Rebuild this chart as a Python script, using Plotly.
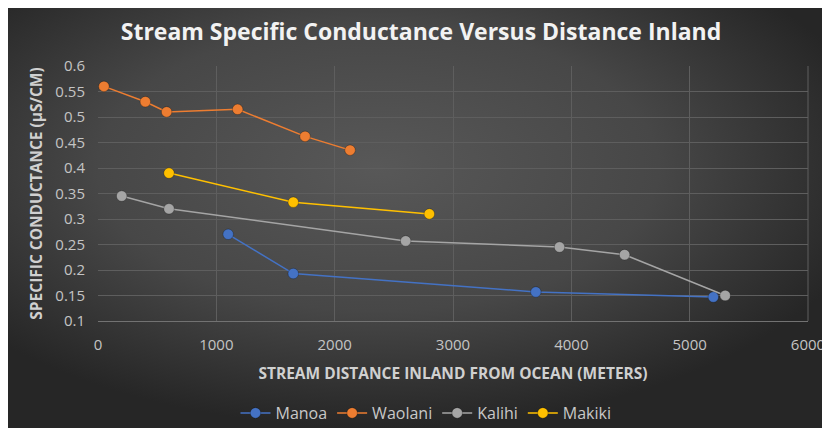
import base64
import plotly.graph_objects as go

# ---- data ----
manoa_x = [1100, 1650, 3700, 5200]
manoa_y = [0.27, 0.193, 0.157, 0.147]
waolani_x = [50, 400, 580, 1180, 1750, 2130]
waolani_y = [0.56, 0.53, 0.51, 0.515, 0.462, 0.435]
kalihi_x = [200, 600, 2600, 3900, 4450, 5300]
kalihi_y = [0.345, 0.32, 0.257, 0.245, 0.23, 0.15]
makiki_x = [600, 1650, 2800]
makiki_y = [0.39, 0.333, 0.31]

series = [
    ("Manoa", manoa_x, manoa_y, "#4472C4"),
    ("Waolani", waolani_x, waolani_y, "#ED7D31"),
    ("Kalihi", kalihi_x, kalihi_y, "#A5A5A5"),
    ("Makiki", makiki_x, makiki_y, "#FFC000"),
]

# page body adds an 8px offset; the figure fills the rest of the window
OFF = 8
W, H = 830 - OFF, 428 - OFF
ML, MR, MT, MB = 98 - OFF, 22, 66 - OFF, 107
PW, PH = W - ML - MR, H - MT - MB

svg = f'''<svg xmlns="http://www.w3.org/2000/svg" width="{W}" height="{H}" viewBox="0 0 {W} {H}" preserveAspectRatio="none">
<defs><radialGradient id="g" cx="0.45" cy="0.38" r="0.62">
<stop offset="0" stop-color="#585858"/><stop offset="0.55" stop-color="#474747"/>
<stop offset="1" stop-color="#262626"/></radialGradient></defs>
<rect x="0" y="0" width="{W}" height="{H}" fill="url(#g)"/></svg>'''
src = "data:image/svg+xml;base64," + base64.b64encode(svg.encode()).decode()

fig = go.Figure()
for name, xs, ys, col in series:
    fig.add_trace(go.Scatter(
        x=xs, y=ys, name=name, mode="lines+markers",
        line=dict(color=col, width=1.5),
        marker=dict(color=col, size=10.5, line=dict(color="rgba(0,0,0,0.25)", width=1)),
    ))

fig.add_layout_image(dict(
    source=src, xref="paper", yref="paper",
    x=-ML / PW, y=1 + MT / PH, sizex=W / PW, sizey=H / PH,
    xanchor="left", yanchor="top", sizing="stretch", layer="below",
))

FONT = "Open Sans"
fig.update_layout(
    width=W, height=H,
    margin=dict(l=ML, r=MR, t=MT, b=MB, autoexpand=False),
    paper_bgcolor="#3a3a3a",
    plot_bgcolor="rgba(0,0,0,0)",
    font=dict(family=FONT, color="#d0d0d0", size=14),
    title=dict(text="<b>Stream Specific Conductance Versus Distance Inland</b>",
               x=(421 - 98) / PW, xref="paper", y=1 - (32 - OFF) / H, yref="container",
               xanchor="center", yanchor="middle",
               font=dict(family=FONT, size=23, color="#f2f2f2")),
    showlegend=True,
    legend=dict(orientation="h", x=(426 - 98) / PW, xanchor="center",
                y=-(413 - 321) / PH, yanchor="middle",
                font=dict(family=FONT, size=16, color="#c8c8c8"), bgcolor="rgba(0,0,0,0)"),
    xaxis=dict(range=[0, 6000], dtick=1000, showgrid=True, gridcolor="#5e5e5e", gridwidth=1,
               zeroline=False, showline=True, linecolor="#727272", automargin=False,
               tickfont=dict(size=15, color="#c4c4c4"), ticks="", ticklabelstandoff=10,
               title=dict(text="<b>STREAM DISTANCE INLAND FROM OCEAN (METERS)</b>",
                          font=dict(size=15.5, color="#d0d0d0"), standoff=15)),
    yaxis=dict(range=[0.1, 0.6], dtick=0.05, showgrid=True, gridcolor="#5e5e5e", gridwidth=1,
               zeroline=False, showline=False, automargin=False,
               tickfont=dict(size=15, color="#c4c4c4"), ticks="", ticklabelstandoff=12,
               title=dict(text="<b>SPECIFIC CONDUCTANCE (µS/CM)</b>",
                          font=dict(size=15.5, color="#d0d0d0"), standoff=8)),
)
fig.add_shape(type="line", xref="paper", yref="paper", x0=1, x1=1, y0=0, y1=1,
              line=dict(color="#5e5e5e", width=1))

fig.write_html("out.html")
